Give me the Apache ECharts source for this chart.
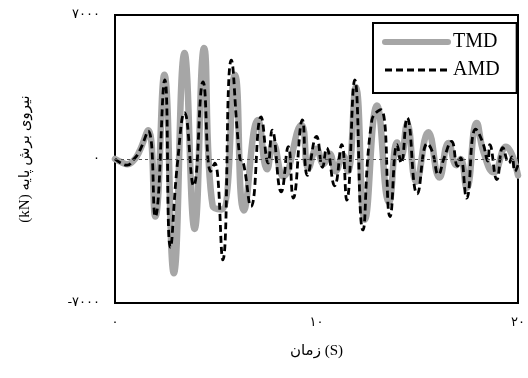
<!DOCTYPE html>
<html>
<head>
<meta charset="utf-8">
<script src="https://cdn.jsdelivr.net/npm/echarts@6/dist/echarts.min.js"></script>
<style>
  html, body { margin: 0; padding: 0; background: #ffffff; }
  #chart { width: 528px; height: 378px; }
</style>
</head>
<body>
<div id="chart"></div>
<script>
// Base shear time histories (kN) of the structure with a tuned mass damper and an active mass damper
const tmdTime = [0, 0.3, 0.6, 0.9, 1.2, 1.65, 2.0, 2.45, 2.92, 3.45, 3.95, 4.42, 4.85, 5.3, 5.95, 6.4,
  7.1, 7.55, 7.85, 8.35, 9.25, 9.6, 10.0, 10.35, 10.65, 10.95, 11.3, 11.55, 11.95, 12.4, 13.0, 13.6,
  14.0, 14.2, 14.5, 14.95, 15.55, 16.1, 16.55, 16.95, 17.15, 17.45, 17.95, 18.3, 18.8, 19.4, 20.0];
const tmdForce = [0, -150, -250, -100, 350, 1400, -2800, 4100, -5550, 5150, -3400, 5400, -2300, -2450, 4100, -2500,
  1900, -500, 750, -850, 1650, -450, 500, -250, 250, -600, 200, -600, 3500, -2950, 2600, -2100,
  800, 100, 1700, -1100, 1300, -900, 780, -300, 0, -1400, 1750, 300, -650, 600, -800];

const amdTime = [0, 0.3, 0.6, 0.9, 1.2, 1.65, 2.0, 2.47, 2.75, 3.1, 3.45, 3.9, 4.37, 4.75, 4.95, 5.35, 5.77,
  6.2, 6.35, 6.75, 7.25, 7.6, 7.8, 8.25, 8.6, 8.85, 9.3, 9.55, 10.0, 10.3, 10.5, 10.9, 11.25, 11.5,
  11.9, 12.3, 12.75, 13.2, 13.65, 14.0, 14.2, 14.5, 15.0, 15.5, 15.75, 16.05, 16.35, 16.7, 17.0, 17.15,
  17.45, 17.9, 18.25, 18.5, 18.6, 18.95, 19.25, 19.55, 19.7, 19.85, 20.0];
const amdForce = [0, -200, -300, -50, 350, 1350, -2800, 3850, -4300, -200, 2250, -1300, 3750, -600, -200, -4900, 4800,
  0, -100, -2300, 2050, -200, 1400, -1600, 600, -1900, 1900, -800, 1100, -400, 530, -1300, 700, -2000,
  3850, -3450, 1900, 2400, -2800, 700, -200, 2000, -1700, 750, 350, -750, 100, 850, -350, 50,
  -1900, 1450, 800, -100, 700, -1000, 550, -200, 100, -600, -300];

// Axis ticks and their Persian labels
const xTicks = [0, 10, 20];
const xTickText = ['۰', '۱۰', '۲۰'];
const yTicks = [-7000, 0, 7000];
const yTickText = ['-۷۰۰۰', '۰', '۷۰۰۰'];

const seriesNames = ['TMD', 'AMD'];
const xTitle = 'زمان (S)';
const yTitle = '\u202B' + 'نیروی برش پایه (kN)' + '\u202C';

function pairs(ts, vs) { return ts.map((t, i) => [t, vs[i]]); }
function tickLabel(ticks, texts) {
  return function (v) {
    const i = ticks.indexOf(v);
    return i >= 0 ? texts[i] : '';
  };
}

const serif = '"Liberation Serif", "DejaVu Sans", serif';
const chart = echarts.init(document.getElementById('chart'), null, { renderer: 'canvas' });

chart.setOption({
  animation: false,
  backgroundColor: '#ffffff',
  grid: {
    left: 115, right: 10, top: 15, bottom: 75,
    show: true, borderColor: '#000000', borderWidth: 2, backgroundColor: 'transparent'
  },
  xAxis: {
    type: 'value', min: 0, max: 20, interval: 10,
    axisLine: { show: false }, axisTick: { show: false }, splitLine: { show: false },
    axisLabel: {
      margin: 13, color: '#000', fontSize: 13, fontFamily: '"DejaVu Sans", sans-serif',
      formatter: tickLabel(xTicks, xTickText)
    },
    name: xTitle, nameLocation: 'middle', nameGap: 41,
    nameTextStyle: { color: '#000', fontSize: 15, fontFamily: serif }
  },
  yAxis: {
    type: 'value', min: -7000, max: 7000, interval: 7000,
    axisLine: { show: false }, axisTick: { show: false }, splitLine: { show: false },
    axisLabel: {
      margin: 15, color: '#000', fontSize: 13, fontFamily: '"DejaVu Sans", sans-serif',
      formatter: tickLabel(yTicks, yTickText)
    },
    name: yTitle, nameLocation: 'middle', nameGap: 82, nameRotate: 90,
    nameTextStyle: { color: '#000', fontSize: 15, fontFamily: serif }
  },
  legend: {
    orient: 'vertical', left: 373, top: 23,
    padding: [9, 17, 13, 9],
    borderColor: '#000', borderWidth: 2, backgroundColor: '#fff',
    itemWidth: 63, itemHeight: 20, itemGap: 8,
    textStyle: { color: '#000', fontSize: 20, fontFamily: serif },
    data: [
      { name: seriesNames[0], itemStyle: { opacity: 0 }, lineStyle: { width: 6, cap: 'round' } },
      { name: seriesNames[1], itemStyle: { opacity: 0 }, lineStyle: { width: 2.8, type: [7, 4] } }
    ]
  },
  series: [
    {
      name: seriesNames[0], type: 'line', data: pairs(tmdTime, tmdForce),
      smooth: 0.5, symbol: 'none', z: 2,
      lineStyle: { color: '#a6a6a6', width: 6.5, cap: 'round', join: 'round' },
      itemStyle: { color: '#a6a6a6' },
      markLine: {
        silent: true, symbol: 'none', label: { show: false },
        lineStyle: { color: '#555', width: 1, type: [3, 3] },
        data: [{ yAxis: 0 }]
      }
    },
    {
      name: seriesNames[1], type: 'line', data: pairs(amdTime, amdForce),
      smooth: 0.5, symbol: 'none', z: 3,
      lineStyle: { color: '#000000', width: 2.8, type: [7, 4], join: 'round' },
      itemStyle: { color: '#000000' }
    }
  ]
});
</script>
</body>
</html>
